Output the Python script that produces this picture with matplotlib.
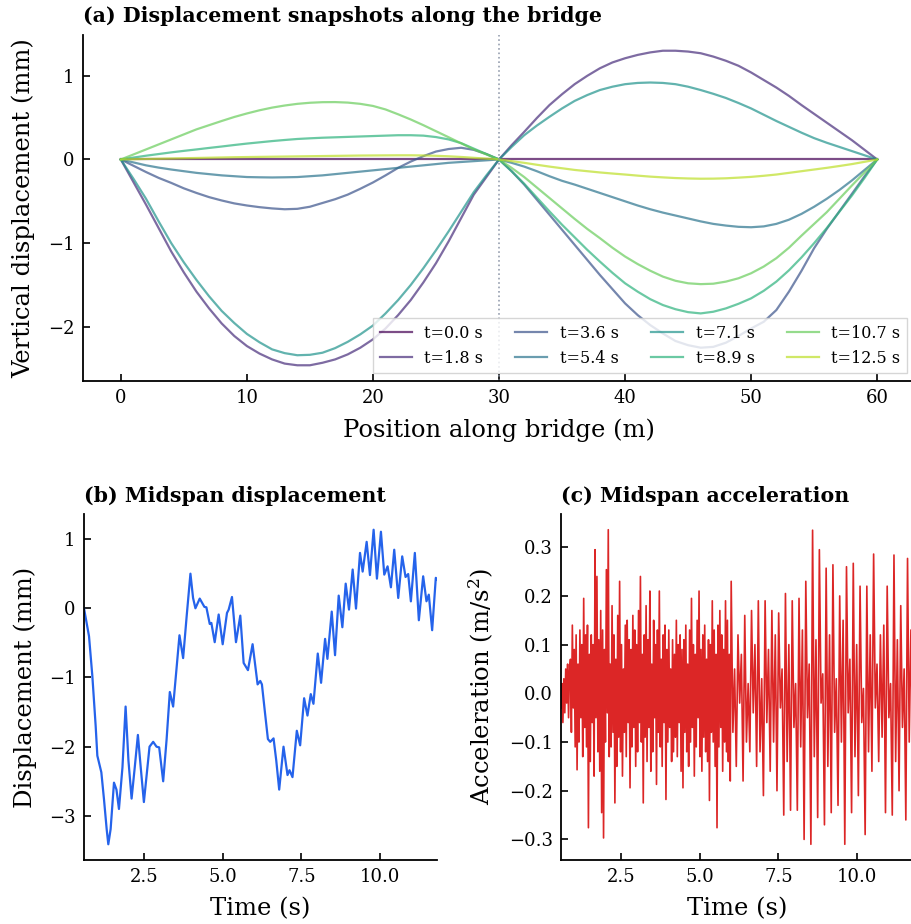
import numpy as np
import matplotlib
matplotlib.use('Agg')
import matplotlib.pyplot as plt

plt.rcParams['font.family'] = 'serif'
plt.rcParams['font.serif'] = ['DejaVu Serif']
plt.rcParams['mathtext.fontset'] = 'dejavuserif'

# ---------------- data: snapshots along the bridge ----------------
bridge_x = np.arange(0, 61, 1)  # m
snap_times = [0.0, 1.8, 3.6, 5.4, 7.1, 8.9, 10.7, 12.5]

snap_00 = [0.0] * 61
snap_18 = [0, -0.27, -0.54, -0.82, -1.10, -1.35, -1.58, -1.78, -1.96, -2.11, -2.23, -2.32, -2.39, -2.44, -2.46,
           -2.46, -2.43, -2.39, -2.33, -2.25, -2.15, -2.02, -1.86, -1.68, -1.47, -1.24, -0.98, -0.70, -0.42, -0.21,
           0, 0.17, 0.33, 0.495, 0.65, 0.78, 0.90, 1.00, 1.09, 1.16, 1.21, 1.25, 1.28, 1.30, 1.30,
           1.29, 1.27, 1.23, 1.18, 1.12, 1.04, 0.95, 0.86, 0.76, 0.65, 0.545, 0.44, 0.335, 0.23, 0.115, 0]
snap_36 = [0, -0.075, -0.15, -0.22, -0.28, -0.345, -0.40, -0.45, -0.49, -0.525, -0.55, -0.57, -0.585, -0.595, -0.59,
           -0.565, -0.52, -0.475, -0.42, -0.35, -0.275, -0.19, -0.10, -0.025, 0.04, 0.095, 0.125, 0.14, 0.115, 0.065,
           0, -0.14, -0.30, -0.48, -0.66, -0.84, -1.02, -1.20, -1.38, -1.55, -1.72, -1.86, -1.98, -2.08, -2.17,
           -2.22, -2.25, -2.24, -2.19, -2.11, -2.02, -1.94, -1.80, -1.58, -1.33, -1.06, -0.83, -0.62, -0.41, -0.20, 0]
snap_54 = [0, -0.035, -0.07, -0.097, -0.12, -0.14, -0.16, -0.175, -0.19, -0.20, -0.21, -0.213, -0.215, -0.213, -0.21,
           -0.20, -0.19, -0.175, -0.16, -0.145, -0.13, -0.115, -0.10, -0.085, -0.07, -0.055, -0.04, -0.03, -0.02, -0.01,
           0, -0.04, -0.085, -0.14, -0.20, -0.255, -0.30, -0.35, -0.40, -0.45, -0.50, -0.55, -0.595, -0.635, -0.67,
           -0.705, -0.74, -0.77, -0.79, -0.805, -0.81, -0.80, -0.77, -0.72, -0.65, -0.565, -0.47, -0.365, -0.25, -0.125, 0]
snap_71 = [0, -0.23, -0.47, -0.74, -1.0, -1.23, -1.44, -1.635, -1.81, -1.955, -2.085, -2.185, -2.27, -2.315, -2.34,
           -2.335, -2.31, -2.255, -2.18, -2.09, -1.985, -1.84, -1.68, -1.50, -1.30, -1.085, -0.86, -0.625, -0.39, -0.19,
           0, 0.15, 0.29, 0.405, 0.51, 0.61, 0.70, 0.77, 0.83, 0.87, 0.90, 0.915, 0.92, 0.915, 0.90,
           0.87, 0.83, 0.785, 0.735, 0.675, 0.61, 0.535, 0.46, 0.39, 0.32, 0.255, 0.20, 0.15, 0.10, 0.05, 0]
snap_89 = [0, 0.023, 0.045, 0.065, 0.085, 0.103, 0.12, 0.138, 0.155, 0.173, 0.19, 0.205, 0.22, 0.233, 0.245,
           0.253, 0.26, 0.265, 0.27, 0.275, 0.28, 0.285, 0.29, 0.29, 0.285, 0.268, 0.24, 0.195, 0.13, 0.065,
           0, -0.14, -0.29, -0.455, -0.62, -0.78, -0.93, -1.08, -1.22, -1.355, -1.48, -1.58, -1.67, -1.74, -1.79,
           -1.825, -1.84, -1.82, -1.78, -1.725, -1.66, -1.57, -1.46, -1.325, -1.17, -1.00, -0.82, -0.625, -0.43, -0.22, 0]
snap_107 = [0, 0.06, 0.12, 0.18, 0.24, 0.30, 0.36, 0.41, 0.46, 0.508, 0.55, 0.588, 0.62, 0.645, 0.665,
            0.678, 0.685, 0.686, 0.68, 0.665, 0.64, 0.598, 0.54, 0.478, 0.41, 0.338, 0.266, 0.193, 0.12, 0.06,
            0, -0.10, -0.21, -0.335, -0.46, -0.585, -0.71, -0.83, -0.94, -1.055, -1.16, -1.25, -1.33, -1.40, -1.45,
            -1.48, -1.49, -1.485, -1.46, -1.42, -1.36, -1.28, -1.18, -1.055, -0.91, -0.77, -0.63, -0.47, -0.31, -0.155, 0]
snap_125 = [0, 0.003, 0.006, 0.009, 0.012, 0.015, 0.018, 0.021, 0.024, 0.027, 0.029, 0.031, 0.033, 0.035, 0.037,
            0.039, 0.041, 0.043, 0.045, 0.047, 0.048, 0.049, 0.05, 0.05, 0.048, 0.044, 0.038, 0.03, 0.02, 0.01,
            0, -0.02, -0.04, -0.063, -0.085, -0.105, -0.125, -0.14, -0.155, -0.168, -0.18, -0.193, -0.205, -0.214, -0.222,
            -0.227, -0.23, -0.229, -0.225, -0.217, -0.208, -0.195, -0.18, -0.16, -0.14, -0.12, -0.10, -0.078, -0.055, -0.028, 0]
snapshots = [snap_00, snap_18, snap_36, snap_54, snap_71, snap_89, snap_107, snap_125]
midspan_x = 30

# ---------------- data: midspan displacement (time s, mm) ----------------
disp_t = [0.60, 0.759, 0.865, 0.970, 1.023, 1.097, 1.150, 1.234, 1.319, 1.371, 1.445, 1.551, 1.630, 1.709, 1.820,
          1.920, 2.010, 2.110, 2.210, 2.310, 2.400, 2.500, 2.590, 2.679, 2.795, 2.901, 2.985, 3.112, 3.220, 3.323,
          3.428, 3.530, 3.629, 3.745, 3.860, 3.977, 4.060, 4.135, 4.272, 4.420, 4.483, 4.589, 4.641, 4.747, 4.873,
          5.000, 5.137, 5.190, 5.295, 5.422, 5.559, 5.665, 5.802, 5.949, 6.108, 6.192, 6.245, 6.340, 6.435, 6.508,
          6.614, 6.700, 6.793, 6.930, 7.057, 7.120, 7.215, 7.352, 7.458, 7.584, 7.690, 7.795, 7.880, 8.017, 8.122,
          8.249, 8.323, 8.460, 8.565, 8.681, 8.797, 8.903, 9.008, 9.124, 9.230, 9.357, 9.441, 9.568, 9.673, 9.789,
          9.894, 10.021, 10.127, 10.232, 10.338, 10.443, 10.570, 10.696, 10.802, 10.886, 10.971, 11.097, 11.224,
          11.361, 11.466, 11.540, 11.646, 11.762, 11.80]
disp_v = [0.0, -0.404, -0.98, -1.70, -2.13, -2.27, -2.37, -2.76, -3.19, -3.41, -3.19, -2.52, -2.62, -2.90, -2.30,
          -1.42, -2.20, -2.75, -2.30, -1.83, -2.30, -2.80, -2.40, -2.00, -1.93, -2.00, -2.01, -2.50, -1.90, -1.21,
          -1.42, -0.90, -0.39, -0.72, -0.10, 0.50, 0.15, 0.0, 0.14, 0.02, 0.014, -0.226, -0.212, -0.49, -0.09,
          -0.52, -0.067, -0.02, 0.163, -0.49, -0.106, -0.79, -0.894, -0.519, -1.10, -1.05, -1.10, -1.50, -1.89, -1.93,
          -1.88, -2.20, -2.62, -2.0, -2.41, -2.34, -2.44, -1.77, -1.98, -1.30, -1.55, -1.24, -1.38, -0.654, -1.077,
          -0.442, -0.731, -0.048, -0.678, 0.183, -0.274, 0.356, -0.019, 0.56, -0.005, 0.80, 0.53, 0.96, 0.48, 1.135,
          0.428, 1.106, 0.486, 0.606, 0.303, 0.846, 0.149, 0.75, 0.452, 0.495, 0.10, 0.80, -0.173,
          0.462, 0.101, 0.197, -0.317, 0.44, 0.42]

# ---------------- data: midspan acceleration (m/s^2) ----------------
acc_early = [-0.03, 0.02, -0.06, 0.03, -0.04, 0.05, -0.02, 0.06, -0.05, 0.04,
             0.07, -0.08, 0.14, -0.03, 0.09, -0.11, 0.12, -0.157, 0.06, -0.10,
             0.13, -0.05, 0.10, -0.13, 0.195, -0.07, 0.12, -0.11, 0.14, -0.276,
             0.08, -0.14, 0.12, -0.06, 0.10, -0.17, 0.295, -0.05, 0.24, -0.12,
             0.11, -0.16, 0.17, -0.245, 0.13, -0.297, 0.09, -0.10, 0.254, -0.04,
             0.336, -0.13, 0.06, -0.11, 0.18, -0.08, 0.12, -0.225, 0.07, -0.15,
             0.16, -0.09, 0.23, -0.12, 0.10, -0.17, 0.05, -0.08, 0.14, -0.13,
             0.15, -0.06, 0.11, -0.194, 0.09, -0.11, 0.16, -0.07, 0.13, -0.15,
             0.10, -0.12, 0.17, -0.06, 0.24, -0.10, 0.08, -0.225, 0.12, -0.09,
             0.18, -0.14, 0.11, -0.07, 0.21, -0.16, 0.06, -0.12, 0.15, -0.05,
             0.10, -0.187, 0.13, -0.08, 0.21, -0.11, 0.07, -0.15, 0.12, -0.06,
             0.14, -0.218, 0.09, -0.10, 0.13, -0.07, 0.05, -0.14, 0.11, -0.12,
             0.08, -0.09, 0.15, -0.13, 0.10, -0.06, 0.12, -0.16, 0.09, -0.194,
             0.11, -0.08, 0.14, -0.12, 0.06, -0.15, 0.13, -0.10, 0.195, -0.07,
             0.10, -0.17, 0.08, -0.11, 0.15, -0.05, 0.21, -0.13, 0.09, -0.16,
             0.12, -0.09, 0.14, -0.12, 0.07, -0.14, 0.11, -0.22, 0.10, -0.08,
             0.19, -0.10, 0.13, -0.15, 0.08, -0.276, 0.14, -0.11, 0.17, -0.07,
             0.12, -0.16, 0.09, -0.10, 0.19, -0.12, 0.15, -0.14, 0.08, -0.18]
acc_late = [0.23, -0.08, 0.05, -0.15, 0.12, -0.02, 0.08, -0.18, 0.16, -0.10, 0.02, -0.12,
            0.17, -0.04, 0.10, -0.15, 0.19, -0.12, 0.03, -0.21, 0.19, -0.06, 0.09, -0.16,
            0.17, -0.10, 0.12, -0.20, 0.165, -0.03, 0.05, -0.25, 0.205, -0.14, 0.10, -0.24,
            0.19, -0.07, 0.02, -0.24, 0.195, -0.11, 0.13, -0.30, 0.23, -0.05, 0.06, -0.31,
            0.335, -0.13, 0.11, -0.255, 0.295, -0.02, 0.04, -0.27, 0.257, -0.15, 0.12, -0.245,
            0.264, -0.08, 0.03, -0.23, 0.20, -0.10, 0.15, -0.31, 0.26, -0.04, 0.07, -0.245,
            0.267, -0.13, 0.10, -0.21, 0.22, -0.06, 0.01, -0.29, 0.22, -0.12, 0.12, -0.16,
            0.286, -0.03, 0.06, -0.14, 0.12, -0.09, 0.14, -0.245, 0.22, -0.05, 0.02, -0.25,
            0.284, -0.14, 0.11, -0.20, 0.18, -0.07, 0.05, -0.26, 0.277, -0.10, 0.13, -0.10,
            0.15]
t_start, t_end = 0.60, 11.80
acc_t = np.concatenate([np.linspace(t_start, 5.97, len(acc_early)),
                        np.linspace(6.0, 11.81, len(acc_late))])
acc_v = np.array(acc_early + acc_late)

# ---------------- figure ----------------
W, H = 912, 924
fig = plt.figure(figsize=(W / 100, H / 100), dpi=100)
ax_a = fig.add_axes([83 / W, 1 - 381 / H, 832 / W, 346 / H])
ax_b = fig.add_axes([84 / W, 1 - 860 / H, 353 / W, 346 / H])
ax_c = fig.add_axes([561 / W, 1 - 860 / H, 353 / W, 346 / H])

LABEL_FS = 17.5
TITLE_FS = 14.8
for ax in (ax_a, ax_b, ax_c):
    ax.spines['top'].set_visible(False)
    ax.spines['right'].set_visible(False)
    ax.spines['left'].set_linewidth(1.3)
    ax.spines['bottom'].set_linewidth(1.3)
    ax.tick_params(direction='in', length=5, width=1.2, labelsize=13, pad=6)

colors = plt.cm.viridis(np.linspace(0, 0.9, len(snap_times)))
for tt, vals, c in zip(snap_times, snapshots, colors):
    ax_a.plot(bridge_x, vals, color=c, alpha=0.7, lw=1.6, label=f't={tt:.1f} s')
ax_a.axvline(midspan_x, color='#8a94a6', ls=':', lw=1.2, alpha=0.9)
ax_a.set_yticks([-2, -1, 0, 1])
ax_a.set_xlabel('Position along bridge (m)', fontsize=LABEL_FS, labelpad=8)
ax_a.set_ylabel('Vertical displacement (mm)', fontsize=LABEL_FS, labelpad=9)
ax_a.set_title('(a) Displacement snapshots along the bridge', loc='left',
               fontweight='bold', fontsize=TITLE_FS, pad=9)
ax_a.legend(ncol=4, loc='lower right', fontsize=11.5, frameon=True,
            framealpha=0.8, edgecolor='#cccccc', fancybox=False,
            columnspacing=2.0, handlelength=2.0, borderaxespad=0.5)

ax_b.plot(disp_t, disp_v, color='#2563eb', lw=1.6)
ax_b.set_xlim(t_start, t_end)
ax_b.set_xticks([2.5, 5.0, 7.5, 10.0])
ax_b.set_xlabel('Time (s)', fontsize=LABEL_FS, labelpad=8)
ax_b.set_ylabel('Displacement (mm)', fontsize=LABEL_FS, labelpad=9)
ax_b.set_title('(b) Midspan displacement', loc='left', fontweight='bold',
               fontsize=TITLE_FS, pad=9)

ax_c.plot(acc_t, acc_v, color='#dc2626', lw=1.2)
ax_c.set_xlim(t_start, t_end)
ax_c.set_xticks([2.5, 5.0, 7.5, 10.0])
ax_c.set_xlabel('Time (s)', fontsize=LABEL_FS, labelpad=8)
ax_c.set_ylabel('Acceleration (m/s$^2$)', fontsize=LABEL_FS, labelpad=9)
ax_c.set_title('(c) Midspan acceleration', loc='left', fontweight='bold',
               fontsize=TITLE_FS, pad=9)

fig.savefig('out.png', dpi=100)
